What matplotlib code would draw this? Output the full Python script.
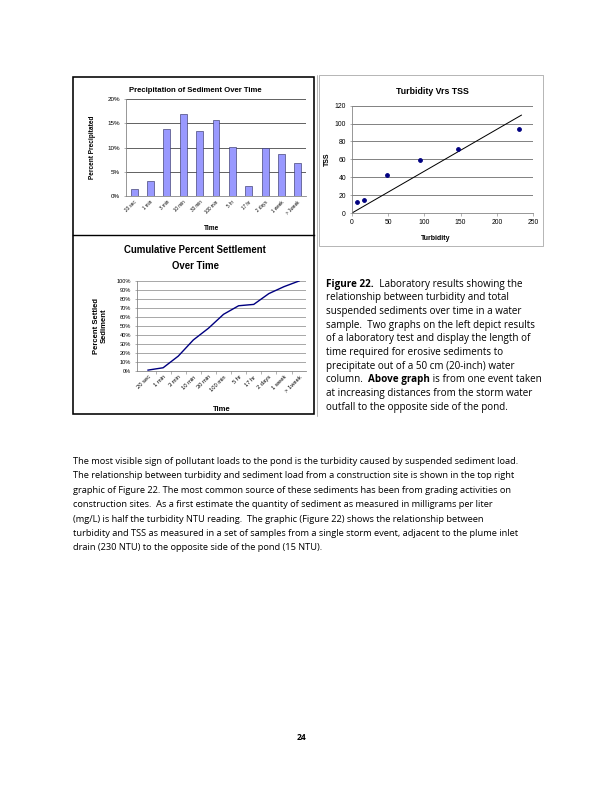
import matplotlib
matplotlib.use("Agg")
import matplotlib.pyplot as plt
from matplotlib.patches import Rectangle
from matplotlib.lines import Line2D
import numpy as np

# ---- data ----
time_labels = ["20 sec", "1 min", "3 min", "10 min", "30 min", "100 min",
               "5 hr", "17 hr", "2 days", "1 week", "> 1week"]
pct_precipitated = [1.5, 3.1, 13.8, 17.0, 13.3, 15.6, 10.1, 2.1, 9.8, 8.7, 6.9]
pct_settled = [1.0, 3.6, 16.5, 34.5, 47.5, 63.0, 72.5, 74.0, 86.0, 93.7, 100.0]

turbidity = [7, 17, 48, 94, 146, 230]
tss = [12, 15, 43, 59, 72, 94]

caption_lines = [
    [("Figure 22.", "bold"), ("  Laboratory results showing the", "normal")],
    [("relationship between turbidity and total", "normal")],
    [("suspended sediments over time in a water", "normal")],
    [("sample.  Two graphs on the left depict results", "normal")],
    [("of a laboratory test and display the length of", "normal")],
    [("time required for erosive sediments to", "normal")],
    [("precipitate out of a 50 cm (20-inch) water", "normal")],
    [("column.  ", "normal"), ("Above graph", "bold"), (" is from one event taken", "normal")],
    [("at increasing distances from the storm water", "normal")],
    [("outfall to the opposite side of the pond.", "normal")],
]

body_lines = [
    "The most visible sign of pollutant loads to the pond is the turbidity caused by suspended sediment load.",
    "The relationship between turbidity and sediment load from a construction site is shown in the top right",
    "graphic of Figure 22. The most common source of these sediments has been from grading activities on",
    "construction sites.  As a first estimate the quantity of sediment as measured in milligrams per liter",
    "(mg/L) is half the turbidity NTU reading.  The graphic (Figure 22) shows the relationship between",
    "turbidity and TSS as measured in a set of samples from a single storm event, adjacent to the plume inlet",
    "drain (230 NTU) to the opposite side of the pond (15 NTU).",
]

W, H = 612, 792
chart_font = "Liberation Sans"
text_font = "Open Sans"

fig = plt.figure(figsize=(W / 72, H / 72), dpi=72)


def box(x0, y0, x1, y1):
    return [x0 / W, 1 - y1 / H, (x1 - x0) / W, (y1 - y0) / H]


def fx(x):
    return x / W


def fy(y):
    return 1 - y / H


def excel_axes(ax):
    for s in ["top", "right"]:
        ax.spines[s].set_visible(False)
    for s in ["left", "bottom"]:
        ax.spines[s].set_color("#808080")
        ax.spines[s].set_linewidth(0.8)
    ax.tick_params(colors="#808080", length=2.5, width=0.6, labelcolor="black")
    ax.set_axisbelow(True)


# ---- frames around the charts ----
fig.patches.append(Rectangle((fx(73), fy(414)), fx(314) - fx(73), fy(77) - fy(414),
                             transform=fig.transFigure, fill=False, lw=1.6, ec="black"))
fig.lines.append(Line2D([fx(73), fx(314)], [fy(235), fy(235)],
                        transform=fig.transFigure, lw=1.4, color="black"))
fig.lines.append(Line2D([fx(316.5), fx(316.5)], [fy(75), fy(416)],
                        transform=fig.transFigure, lw=0.6, color="#888888"))
fig.patches.append(Rectangle((fx(318.5), fy(246)), fx(543) - fx(318.5), fy(75) - fy(246),
                             transform=fig.transFigure, fill=False, lw=0.6, ec="#888888"))

# ---- bar chart ----
ax1 = fig.add_axes(box(126, 99, 306, 196))
x = np.arange(len(time_labels))
ax1.bar(x, pct_precipitated, width=0.42, color="#9999FF", edgecolor="#333366", linewidth=0.6)
ax1.set_xlim(-0.5, len(time_labels) - 0.5)
ax1.set_ylim(0, 20)
ax1.set_yticks([0, 5, 10, 15, 20])
ax1.set_yticklabels(["0%", "5%", "10%", "15%", "20%"], fontsize=6.2, family=chart_font)
ax1.yaxis.grid(True, color="black", lw=0.6)
ax1.set_xticks(x)
ax1.set_xticklabels(time_labels, rotation=45, ha="right", rotation_mode="anchor",
                    fontsize=4.6, family=chart_font)
excel_axes(ax1)
ax1.tick_params(axis="x", length=0)
fig.text(fx(195), fy(91), "Precipitation of Sediment Over Time", ha="center", va="center",
         fontsize=7.8, fontweight="bold", family=chart_font)
fig.text(fx(92), fy(147), "Percent Precipitated", ha="center", va="center", rotation=90,
         fontsize=6.5, fontweight="bold", family=chart_font)
fig.text(fx(212), fy(229), "Time", ha="center", va="center",
         fontsize=6.5, fontweight="bold", family=chart_font)

# ---- scatter chart ----
ax2 = fig.add_axes(box(352, 105.7, 533, 213))
ax2.scatter(turbidity, tss, s=14, color="#000080", zorder=3)
slope = np.sum(np.multiply(turbidity, tss)) / np.sum(np.square(turbidity))
xt = np.array([0, 234])
ax2.plot(xt, slope * xt, color="black", lw=1.0, zorder=2)
ax2.set_xlim(0, 250)
ax2.set_ylim(0, 120)
ax2.set_xticks(np.arange(0, 251, 50))
ax2.set_yticks(np.arange(0, 121, 20))
ax2.tick_params(labelsize=6.8)
for lab in ax2.get_xticklabels() + ax2.get_yticklabels():
    lab.set_family(chart_font)
ax2.yaxis.grid(True, color="#333333", lw=0.6)
excel_axes(ax2)
fig.text(fx(432), fy(92), "Turbidity Vrs TSS", ha="center", va="center",
         fontsize=8.8, fontweight="bold", family=chart_font)
fig.text(fx(327), fy(159), "TSS", ha="center", va="center", rotation=90,
         fontsize=7, fontweight="bold", family=chart_font)
fig.text(fx(436), fy(238), "Turbidity", ha="center", va="center",
         fontsize=7, fontweight="bold", family=chart_font)

# ---- cumulative line chart ----
ax3 = fig.add_axes(box(137, 281, 306, 371))
ax3.plot(x, pct_settled, color="#000080", lw=1.4)
ax3.set_xlim(-0.73, 10.46)
ax3.set_ylim(0, 100)
ax3.set_yticks(np.arange(0, 101, 10))
ax3.set_yticklabels([f"{v}%" for v in range(0, 101, 10)], fontsize=5.6, family=chart_font)
ax3.yaxis.grid(True, color="#555555", lw=0.5)
ax3.set_xticks(x)
ax3.set_xticklabels(time_labels, rotation=45, ha="right", rotation_mode="anchor",
                    fontsize=5.8, family=chart_font)
ax3.set_xticks(x[:-1] + 0.5, minor=True)
excel_axes(ax3)
ax3.tick_params(axis="x", which="major", length=0)
ax3.tick_params(axis="x", which="minor", length=2.5, color="#808080")
fig.text(fx(195), fy(250), "Cumulative Percent Settlement", ha="center", va="center",
         fontsize=9.6, fontweight="bold", family=chart_font)
fig.text(fx(195), fy(266), "Over Time", ha="center", va="center",
         fontsize=9.6, fontweight="bold", family=chart_font)
fig.text(fx(100), fy(326), "Percent Settled\nSediment", ha="center", va="center", rotation=90,
         fontsize=7.6, fontweight="bold", family=chart_font, linespacing=1.1)
fig.text(fx(222), fy(410), "Time", ha="center", va="center",
         fontsize=7.6, fontweight="bold", family=chart_font)

# ---- caption and body text ----
renderer = fig.canvas.get_renderer()


def text_runs(x0, y0, runs, size):
    xp = x0
    for s, w in runs:
        t = fig.text(fx(xp), fy(y0), s, ha="left", va="center", fontsize=size,
                     fontweight=w, family=text_font)
        xp += t.get_window_extent(renderer).width


for i, runs in enumerate(caption_lines):
    text_runs(326, 284 + 13.7 * i, runs, 9.9)

for i, line in enumerate(body_lines):
    text_runs(73, 461 + 14.5 * i, [(line, "normal")], 9.3)

fig.text(fx(302), fy(737), "24", ha="center", va="center", fontsize=8.5,
         fontweight="bold", family=text_font)

fig.savefig("out.png", dpi=72)
